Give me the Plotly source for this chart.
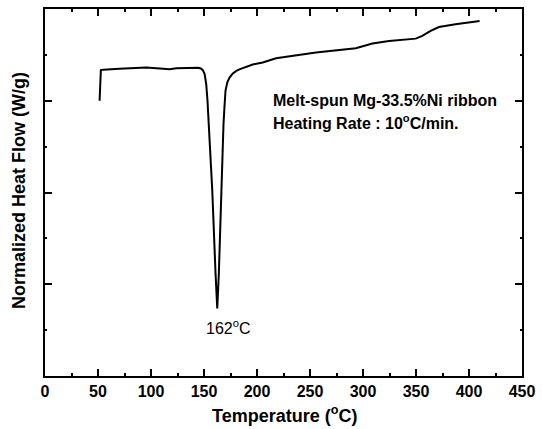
import plotly.graph_objects as go

temperature = [51.5, 51.8, 52.2, 52.7, 54.9, 70.0, 95.7, 117.6, 123.9, 140.0, 144.3, 147.0, 148.9,
               150.6, 152.1, 153.3, 154.6, 157.8, 160.9, 162.5, 164.0, 166.2, 168.4, 169.4, 170.3,
               172.0, 174.1, 177.0, 180.4, 184.0, 189.8, 196.0, 205.4, 218.0, 255.6, 287.0, 293.2,
               308.9, 324.6, 349.7, 355.9, 363.8, 371.6, 387.3, 410.0]
heat_flow = [3.00, 3.15, 3.28, 3.334, 3.337, 3.350, 3.362, 3.344, 3.355, 3.358, 3.360, 3.352, 3.333,
             3.29, 3.18, 3.00, 2.747, 2.02, 1.116, 0.736, 1.116, 2.02, 2.747, 2.95, 3.11,
             3.20, 3.253, 3.295, 3.326, 3.345, 3.37, 3.395, 3.417, 3.464, 3.525, 3.569, 3.572,
             3.623, 3.652, 3.677, 3.707, 3.761, 3.804, 3.833, 3.87]
x_ticks = [0, 50, 100, 150, 200, 250, 300, 350, 400, 450]

FONT = "Liberation Sans, Arial, sans-serif"

fig = go.Figure()
fig.add_trace(go.Scatter(x=temperature, y=heat_flow, mode="lines",
                         line=dict(color="black", width=2), showlegend=False, hoverinfo="skip"))

fig.update_layout(
    width=542, height=429,
    margin=dict(l=45, r=19, t=7, b=53),
    paper_bgcolor="white", plot_bgcolor="white",
    font=dict(family=FONT, color="black"),
    xaxis=dict(range=[0, 450], tickvals=x_ticks, ticktext=[f"<b>{v}</b>" for v in x_ticks],
               ticks="inside", ticklen=7, tickwidth=1.5, tickcolor="black",
               minor=dict(dtick=25, ticks="inside", ticklen=3, tickwidth=1.5, tickcolor="black"),
               showline=True, linecolor="black", linewidth=2, mirror="ticks",
               showgrid=False, zeroline=False, tickfont=dict(size=16, family=FONT)),
    yaxis=dict(range=[0, 4], dtick=1, tick0=0, showticklabels=False,
               ticks="inside", ticklen=7, tickwidth=1.5, tickcolor="black",
               minor=dict(dtick=0.5, ticks="inside", ticklen=2, tickwidth=1.5, tickcolor="black"),
               showline=True, linecolor="black", linewidth=2, mirror="ticks",
               showgrid=False, zeroline=False),
)

fig.add_annotation(text="<b>Temperature (<sup>o</sup>C)</b>", xref="paper", yref="paper",
                   x=(285 - 45) / 478, y=-(415 - 376) / 369, xanchor="center", yanchor="middle",
                   showarrow=False, font=dict(size=18, family=FONT))
fig.add_annotation(text="<b>Normalized Heat Flow (W/g)</b>", xref="paper", yref="paper",
                   x=(19 - 45) / 478, y=(376 - 190) / 369, xanchor="center", yanchor="middle",
                   textangle=-90, showarrow=False, font=dict(size=18, family=FONT))
fig.add_annotation(text="<b>Melt-spun Mg-33.5%Ni ribbon</b>",
                   x=213.3, y=(376 - 100) / 92, xanchor="left", yanchor="middle", align="left",
                   showarrow=False, font=dict(size=16, family=FONT))
fig.add_annotation(text="<b>Heating Rate : 10<sup>o</sup>C/min.</b>",
                   x=213.3, y=(376 - 121) / 92, xanchor="left", yanchor="middle", align="left",
                   showarrow=False, font=dict(size=16, family=FONT))
fig.add_annotation(text="162<sup>o</sup>C", x=(229 - 45) / 1.0629, y=(376 - 327) / 92,
                   xanchor="center", yanchor="middle", showarrow=False,
                   font=dict(size=16, family=FONT))

fig.write_html("out.html")
